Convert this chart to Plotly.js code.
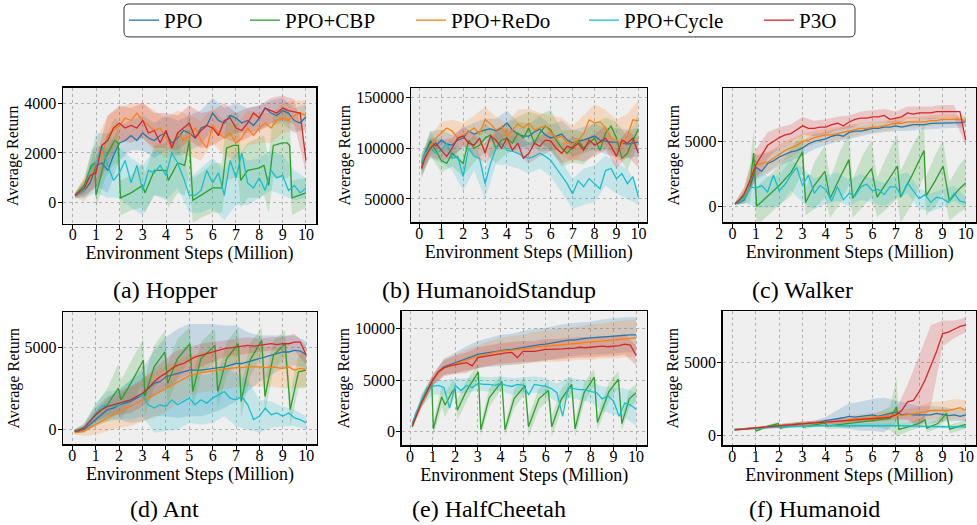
<!DOCTYPE html>
<html><head><meta charset="utf-8">
<script src="https://cdn.plot.ly/plotly-3.0.1.min.js"></script>
<style>html,body{margin:0;padding:0;background:#fff}</style>
</head><body><div id="chart" style="width:977px;height:525px"></div>
<script>
const SERIES = ['PPO','PPO+CBP','PPO+ReDo','PPO+Cycle','P3O'];
const COLORS = ['#1f77b4','#2ca02c','#ff7f0e','#17becf','#d62728'];
const X_TICKS = [0,1,2,3,4,5,6,7,8,9,10];
const X41 = [0.1,0.25,0.5,0.75,1,1.25,1.5,1.75,2,2.25,2.5,2.75,3,3.25,3.5,3.75,4,4.25,4.5,4.75,5,5.25,5.5,5.75,6,6.25,6.5,6.75,7,7.25,7.5,7.75,8,8.25,8.5,8.75,9,9.25,9.5,9.75,10];
const X21 = [0.1,0.5,1,1.5,2,2.5,3,3.5,4,4.5,5,5.5,6,6.5,7,7.5,8,8.5,9,9.5,10];

// ---------- (a) Hopper ----------
const HOP_PPO = [300,380,500,800,1500,1600,1300,1900,2400,2500,2700,2500,2800,2600,2500,2700,2800,2400,2600,2900,2800,2600,3000,3100,3600,3300,3200,3500,3400,3200,3300,3100,3400,3800,3600,3500,3700,3600,3300,3200,3450];
const HOP_PPO_SD = [100,300,800,900,700,600,700,700,700,700,700,700,600,600,600,500,500,500,500,500,500];
const HOP_REDO = [300,400,550,1000,1600,1900,2700,2900,3100,3400,3300,3600,3300,3100,2900,3000,2600,2200,2800,2500,2700,3000,2500,2200,3100,2800,2600,2800,2400,2600,3000,2700,3000,3200,3000,3300,3400,3300,3500,3600,3500];
const HOP_REDO_SD = [100,500,900,800,700,700,700,800,800,900,800,800,700,700,700,700,600,600,600,600,600];
const HOP_P3O = [300,400,600,1100,1200,2300,2500,3000,3200,3000,3100,3000,3300,2800,2900,2400,2900,2200,2800,3000,3200,2600,2900,3100,3000,2700,3300,3400,3000,2900,3200,3600,3400,3800,3700,3600,3800,3700,3650,3600,1700];
const HOP_P3O_SD = [100,300,600,1000,700,700,700,700,700,700,700,700,700,700,600,600,500,500,500,500,500];
const HOP_CYC = [300,400,500,1300,1600,2300,1500,900,1200,1700,800,1500,500,1300,1200,1500,1100,2000,1600,1000,300,300,500,1300,800,1200,300,1700,1000,2000,800,600,1000,500,1300,1000,1100,500,700,400,600];
const HOP_CYC_SD = [100,300,1200,1300,1000,1000,1000,900,1000,1000,700,900,1000,1000,1100,900,800,800,800,600,400];
const HOP_CBP_X = [0.1,0.5,0.8,0.95,1.0,1.4,1.8,1.95,2.05,2.5,3.0,3.1,3.5,4.0,4.1,4.5,4.8,5.0,5.15,5.5,6.0,6.4,6.6,6.9,7.1,7.2,7.5,8.0,8.2,8.4,8.6,9.0,9.2,9.3,9.4,10];
const HOP_CBP = [300,700,1500,1600,300,1800,2500,2400,200,400,700,400,1300,1300,900,1600,1500,2500,100,300,600,600,2200,2300,2300,900,1300,1400,1500,700,2300,2400,2400,2300,200,400];
const HOP_CBP_SD = [100,300,600,700,500,800,900,900,700,700,900,800,1000,1100,1100,1200,1200,1300,900,900,1000,1000,1300,1300,1300,1100,1100,1200,1200,1100,1300,1400,1400,1200,700,600];

// ---------- (b) HumanoidStandup ----------
const HS_PPO = [85000,95000,107000,102000,108000,104000,103000,108000,110000,117000,114000,116000,118000,119000,117000,120000,125000,118000,114000,112000,112000,116000,119000,113000,110000,112000,114000,108000,105000,107000,108000,110000,112000,108000,107000,106000,106000,105000,104000,105000,106000];
const HS_PPO_SD = [8000,10000,10000,10000,10000,11000,11000,12000,12000,12000,12000,13000,13000,13000,13000,13000,13000,13000,14000,14000,14000];
const HS_REDO = [85000,92000,102000,110000,115000,120000,117000,110000,113000,116000,120000,114000,128000,124000,118000,121000,112000,118000,124000,120000,125000,118000,120000,122000,116000,110000,112000,105000,104000,108000,114000,128000,125000,126000,120000,110000,108000,104000,112000,128000,127000];
const HS_REDO_SD = [8000,10000,11000,11000,12000,12000,13000,13000,13000,14000,14000,15000,16000,18000,18000,18000,18000,18000,20000,22000,20000];
const HS_P3O = [80000,90000,100000,105000,98000,92000,100000,110000,112000,105000,103000,110000,95000,112000,108000,100000,110000,98000,105000,90000,95000,105000,102000,108000,107000,100000,95000,102000,100000,105000,98000,108000,103000,106000,110000,102000,92000,108000,105000,110000,95000];
const HS_P3O_SD = [8000,9000,10000,10000,10000,10000,10000,10000,10000,10000,10000,10000,10000,10000,11000,11000,11000,12000,12000,13000,14000];
const HS_CBP = [80000,92000,105000,98000,88000,85000,95000,90000,85000,108000,100000,103000,110000,113000,100000,108000,110000,105000,115000,110000,120000,105000,115000,122000,118000,108000,100000,95000,102000,108000,100000,105000,110000,98000,115000,122000,110000,90000,95000,108000,119000];
const HS_CBP_SD = [10000,12000,12000,13000,13000,14000,14000,15000,15000,16000,16000,18000,20000,18000,16000,16000,15000,15000,16000,16000,15000];
const HS_CYC = [85000,95000,100000,95000,98000,105000,90000,92000,72000,100000,92000,90000,65000,85000,100000,105000,98000,97000,95000,92000,90000,92000,95000,92000,88000,80000,72000,65000,55000,68000,62000,70000,65000,60000,78000,80000,70000,75000,65000,72000,52000];
const HS_CYC_SD = [10000,10000,12000,12000,14000,14000,15000,16000,15000,15000,15000,15000,16000,16000,15000,18000,18000,15000,15000,15000,8000];

// ---------- (c) Walker ----------
const WK_PPO = [200,250,500,1500,3000,2700,3300,3500,3800,4000,4200,4300,4500,4800,5000,5100,5200,5400,5500,5400,5700,5800,5800,5900,6000,6000,6100,6100,6200,6100,6200,6300,6300,6300,6400,6400,6400,6400,6450,6450,6500];
const WK_PPO_SD = [100,300,900,800,700,700,600,600,500,500,500,400,400,400,400,400,400,400,400,400,400];
const WK_REDO = [200,300,600,2000,3200,3300,3400,3700,4000,4300,4500,4700,5000,5100,5300,5400,5500,5500,5600,5700,5800,5900,6000,6000,6100,6100,6200,6300,6400,6400,6500,6500,6500,6500,6600,6600,6700,6700,6700,6700,6600];
const WK_REDO_SD = [100,300,800,800,700,700,600,500,500,500,500,400,400,400,400,400,400,400,400,400,400];
const WK_P3O = [200,400,1000,2000,3200,4000,4700,5000,5300,5500,5600,5900,6200,6000,6000,6100,6100,6300,6400,6200,6500,6700,6800,6800,6900,6900,7000,6700,6800,6900,7200,7100,7200,7200,7200,7300,7300,7300,7300,7300,5100];
const WK_P3O_SD = [100,500,1200,1000,800,700,700,600,600,500,500,500,500,500,500,500,500,500,500,500,400];
const WK_CYC = [200,300,600,1500,1400,1600,1100,2400,1200,1700,2400,3000,1600,2400,1000,1600,1300,400,1500,500,1000,800,1500,1700,1200,1300,900,1500,1500,800,1800,1200,600,900,300,700,600,300,1000,400,300];
const WK_CYC_SD = [100,300,1500,1200,1200,1200,1300,1200,1100,1100,1000,1000,900,900,900,800,800,700,700,600,400];
const WK_CBP_X = [0.1,0.5,0.75,0.9,1.03,1.5,2.0,2.5,3.0,3.13,3.5,3.96,4.18,4.6,4.99,5.15,5.6,5.96,6.2,6.6,7.07,7.2,7.7,8.21,8.3,8.7,9.03,9.3,9.7,10];
const WK_CBP = [200,800,1800,4100,0,800,1600,2600,4200,300,1600,2700,600,2200,3600,600,2000,2900,700,1800,3100,700,2400,4300,800,2000,3100,400,1300,1800];
const WK_CBP_SD = [100,600,1500,1800,1500,1500,1500,1800,1500,1000,1800,2000,1500,2000,2000,1500,2000,2200,1500,2000,2500,2000,2200,2000,1500,2000,2000,1500,1800,2000];

// ---------- (d) Ant ----------
const ANT_PPO = [-100,-100,0,300,600,900,1200,1300,1500,1600,1700,1900,2100,2500,2800,2900,3200,3300,3400,3500,3600,3600,3600,3650,3700,3750,3800,3900,4000,4000,4100,4200,4300,4400,4500,4600,4700,4700,4800,4750,4550];
const ANT_PPO_SD = [100,200,400,700,900,1300,1600,2000,2400,2700,2800,2800,2700,2500,2300,1800,1400,1200,1000,900,800];
const ANT_REDO = [-200,-150,-100,100,300,500,700,900,1100,1300,1400,1600,1800,1900,2100,2300,2450,2700,2900,3100,3250,3350,3450,3500,3550,3600,3650,3700,3750,3750,3800,3800,3800,3750,3800,3750,3700,3800,3600,3700,3650];
const ANT_REDO_SD = [100,300,600,800,1000,1200,1300,1400,1400,1300,1200,1200,1200,1200,1200,1200,1200,1200,1200,1100,1000];
const ANT_P3O = [-100,-100,100,500,900,1200,1400,1500,1600,1700,1800,2000,2200,2500,2900,3200,3400,3700,3900,4000,4200,4400,4500,4600,4700,4800,4900,4950,5000,5050,5100,5050,5100,5150,5200,5150,5200,5200,5300,5300,4500];
const ANT_P3O_SD = [100,200,400,600,700,800,800,800,900,900,800,700,600,500,500,500,400,400,400,500,600];
const ANT_CYC = [-100,-100,100,500,1000,1400,1500,1400,1500,1700,1800,2000,2100,1500,1300,1500,1400,1800,1500,1700,1900,1500,1800,1600,1900,2100,2300,1900,1800,2000,1500,600,800,1300,900,1000,800,1000,700,600,400];
const ANT_CYC_SD = [100,300,600,800,900,1200,1300,1500,1500,1500,1500,1500,1500,1500,1600,1500,1000,800,600,500,400];
const ANT_CBP_X = [0.1,0.5,1.0,1.5,1.97,2.08,2.5,3.04,3.1,3.5,3.96,4.08,4.5,5.03,5.15,5.5,6.1,6.22,6.6,7.1,7.22,7.6,8.1,8.24,8.6,9.1,9.32,9.67,10];
const ANT_CBP = [-100,100,900,1500,2500,1800,2800,4200,2000,3800,4700,2800,4300,5200,2300,4300,5100,2300,4300,5200,1700,4200,5400,2000,4500,5200,1200,3500,3600];
const ANT_CBP_SD = [100,200,600,1000,1500,1200,1300,1300,1200,1300,1300,1200,1200,1000,1000,1000,1000,1000,1000,1000,1000,1000,800,1000,900,800,1000,1000,1100];

// ---------- (e) HalfCheetah ----------
const HC_PPO = [800,1700,2800,3900,5000,5800,6300,6500,6700,6900,7100,7300,7500,7600,7700,7800,7900,7950,8000,8100,8200,8300,8400,8450,8500,8600,8700,8800,8900,8900,9000,9050,9100,9150,9200,9250,9300,9350,9400,9400,9400];
const HC_PPO_SD = [200,400,500,800,1000,1200,1300,1400,1500,1500,1600,1600,1600,1600,1600,1600,1600,1700,1700,1700,1700];
const HC_REDO = [600,1500,2700,3800,5000,5700,6200,6400,6600,6800,7000,7150,7300,7450,7600,7700,7800,7850,7900,7950,8000,8100,8200,8250,8300,8350,8400,8450,8500,8550,8600,8650,8700,8750,8800,8850,8900,8950,9000,9050,9100];
const HC_REDO_SD = [200,400,500,700,900,1000,1100,1200,1300,1400,1400,1500,1500,1600,1600,1600,1700,1700,1800,1800,1800];
const HC_P3O = [600,1500,2800,3900,5000,5800,6200,6400,6500,6600,6700,6400,7200,7300,7400,7500,7600,7650,7700,7200,7800,7800,7800,7900,8000,8000,8000,8050,8100,8100,8200,8150,8200,8250,8300,8250,8300,8350,8500,8400,7400];
const HC_P3O_SD = [200,400,500,800,900,1000,1000,1000,1000,1000,1000,1000,1000,1000,1000,1000,1000,1000,1000,1000,1000];
const HC_CYC = [700,1800,3000,4300,4400,4500,4300,2300,4500,4000,4500,4300,4700,4600,4600,4500,4700,4500,4400,4600,4500,3600,4600,4500,4400,4200,3800,1500,4300,4200,4100,4100,3900,3800,3200,3500,3000,1500,2800,2600,2200];
const HC_CYC_SD = [200,600,800,700,700,700,700,700,700,800,800,800,800,900,1000,1000,1000,1200,1300,1400,1600];
const HC_CBP_X = [0.1,0.5,0.96,1.03,1.4,1.55,1.84,1.99,2.09,2.5,3.02,3.13,3.5,4.06,4.2,4.6,5.09,5.24,5.7,6.12,6.27,6.7,7.15,7.3,7.7,8.15,8.29,8.8,9.22,9.37,9.7,10];
const HC_CBP = [500,3000,4800,300,3400,2600,3800,4200,2100,4000,5800,200,3300,4900,200,3200,4500,500,3200,4000,500,3200,4600,300,3800,5300,900,3900,5100,800,3200,3800];
const HC_CBP_SD = [200,600,600,700,1000,1200,1000,800,1000,1000,800,600,900,700,600,900,800,1000,1000,900,1000,1000,800,800,1000,800,700,900,800,700,900,800];

// ---------- (f) Humanoid ----------
const HU_PPO = [380,400,430,460,500,530,570,610,650,680,700,730,750,800,850,900,1000,1050,1150,1200,1300,1250,1300,1350,1400,1300,1400,1450,1600,1400,1450,1400,1400,1450,1400,1500,1450,1350,1400,1300,1400];
const HU_PPO_SD = [50,60,80,100,120,150,150,150,250,600,900,1000,1100,1200,800,700,600,600,500,400,400];
const HU_REDO = [400,410,440,470,500,530,570,610,650,680,710,740,770,800,830,860,900,930,970,1000,1080,1100,1150,1180,1220,1250,1300,1330,1380,1350,1400,1450,1500,1600,1700,1700,1720,1700,1800,1900,1700];
const HU_REDO_SD = [50,60,80,100,120,150,150,150,150,200,250,300,300,300,300,400,500,600,600,700,700];
const HU_P3O = [350,380,420,460,500,530,570,610,650,680,720,760,800,830,860,880,900,930,960,980,1000,1030,1060,1080,1100,1150,1200,1250,1400,1700,2300,2400,3000,3800,4800,5800,7000,7100,7300,7500,7600];
const HU_P3O_SD = [50,60,80,100,120,150,150,150,150,150,150,150,200,200,300,1200,2500,2800,900,600,500];
const HU_CYC = [380,400,420,450,480,500,520,540,560,580,600,600,610,620,640,650,660,660,670,680,680,690,690,700,700,700,690,700,700,680,650,620,600,600,590,590,580,580,570,570,570];
const HU_CYC_SD = [40,50,60,70,80,80,80,90,90,100,100,100,100,100,100,100,100,100,100,100,100];
const HU_CBP_X = [0.1,0.5,0.97,1.03,1.5,1.97,2.05,2.5,2.97,3.05,3.5,3.97,4.05,5.0,6.0,6.75,7.03,7.13,7.6,7.96,8.25,8.32,8.8,9.17,9.3,10];
const HU_CBP = [400,430,480,300,600,800,480,650,800,560,720,850,620,800,1000,1150,1950,400,600,800,1050,480,800,1500,420,750];
const HU_CBP_SD = [40,50,80,80,100,120,100,120,150,150,150,200,200,300,400,800,2000,400,300,300,300,300,300,400,300,300];

const PANEL_TITLES = ['(a) Hopper','(b) HumanoidStandup','(c) Walker','(d) Ant','(e) HalfCheetah','(f) Humanoid'];
const Y_TICKS = [[0,2000,4000],[50000,100000,150000],[0,5000],[0,5000],[0,5000,10000],[0,5000]];

const PANEL_DATA = [
  [[null,HOP_PPO,HOP_PPO_SD],[HOP_CBP_X,HOP_CBP,HOP_CBP_SD],[null,HOP_REDO,HOP_REDO_SD],[null,HOP_CYC,HOP_CYC_SD],[null,HOP_P3O,HOP_P3O_SD]],
  [[null,HS_PPO,HS_PPO_SD],[null,HS_CBP,HS_CBP_SD],[null,HS_REDO,HS_REDO_SD],[null,HS_CYC,HS_CYC_SD],[null,HS_P3O,HS_P3O_SD]],
  [[null,WK_PPO,WK_PPO_SD],[WK_CBP_X,WK_CBP,WK_CBP_SD],[null,WK_REDO,WK_REDO_SD],[null,WK_CYC,WK_CYC_SD],[null,WK_P3O,WK_P3O_SD]],
  [[null,ANT_PPO,ANT_PPO_SD],[ANT_CBP_X,ANT_CBP,ANT_CBP_SD],[null,ANT_REDO,ANT_REDO_SD],[null,ANT_CYC,ANT_CYC_SD],[null,ANT_P3O,ANT_P3O_SD]],
  [[null,HC_PPO,HC_PPO_SD],[HC_CBP_X,HC_CBP,HC_CBP_SD],[null,HC_REDO,HC_REDO_SD],[null,HC_CYC,HC_CYC_SD],[null,HC_P3O,HC_P3O_SD]],
  [[null,HU_PPO,HU_PPO_SD],[HU_CBP_X,HU_CBP,HU_CBP_SD],[null,HU_REDO,HU_REDO_SD],[null,HU_CYC,HU_CYC_SD],[null,HU_P3O,HU_P3O_SD]]
];

const W = 977, H = 525;
const BOX = [
  {l:63, r:316, t:87, b:223, xr:[-0.415,10.43], yr:[-830,4610]},
  {l:411, r:646.7, t:87.3, b:221.7, xr:[-0.38,10.38], yr:[26970,159250]},
  {l:723.3, r:976, t:87.3, b:221.7, xr:[-0.40,10.44], yr:[-1231,9108]},
  {l:63.3, r:316.7, t:311.7, b:444.3, xr:[-0.385,10.45], yr:[-907,7117]},
  {l:401.7, r:646.7, t:311, b:445, xr:[-0.37,10.47], yr:[-1286,11673]},
  {l:722.7, r:976, t:311, b:445, xr:[-0.41,10.43], yr:[-688,8528]}
];
const CAPTION_POS = [[165,290],[489,290],[802,290],[164,509],[489,509],[814,509]];
const LEGEND_X = [130,251,417,590,765];

const SERIF = 'Liberation Serif';
function rgba(hex,a){const n=parseInt(hex.slice(1),16);return `rgba(${n>>16},${(n>>8)&255},${n&255},${a})`;}

const traces = [];
PANEL_DATA.forEach((panel, pi) => {
  const xa = pi === 0 ? 'x' : 'x' + (pi+1);
  const ya = pi === 0 ? 'y' : 'y' + (pi+1);
  panel.forEach((s, si) => {
    const [cx, m, sd] = s;
    let bx, bc;
    if (cx) { bx = cx; bc = m; }
    else { bx = X21; bc = X21.map((_, k) => m[2*k]); }
    const hi = bc.map((v,k)=>v+sd[k]);
    const lo = bc.map((v,k)=>v-sd[k]);
    traces.push({
      x: bx.concat(bx.slice().reverse()),
      y: hi.concat(lo.slice().reverse()),
      xaxis: xa, yaxis: ya, type:'scatter', mode:'lines', fill:'toself',
      fillcolor: rgba(COLORS[si], 0.2), line:{width:0, color:COLORS[si]},
      hoverinfo:'skip', showlegend:false
    });
  });
  panel.forEach((s, si) => {
    const [cx, m] = s;
    traces.push({
      x: cx || X41, y: m, xaxis: xa, yaxis: ya, type:'scatter', mode:'lines',
      name: SERIES[si], line:{color:COLORS[si], width:1.3},
      showlegend: pi === 0,
      legend: si === 0 ? 'legend' : 'legend' + (si+1)
    });
  });
});

const layout = {
  width: W, height: H, margin:{l:0,r:0,t:0,b:0},
  paper_bgcolor:'#ffffff', plot_bgcolor:'#efefef',
  font:{family:SERIF, size:16, color:'#000'},
  showlegend:true, annotations:[], shapes:[]
};
BOX.forEach((b, i) => {
  const xk = i === 0 ? 'xaxis' : 'xaxis' + (i+1);
  const yk = i === 0 ? 'yaxis' : 'yaxis' + (i+1);
  const ya = i === 0 ? 'y' : 'y' + (i+1);
  const xa = i === 0 ? 'x' : 'x' + (i+1);
  const common = {
    showline:true, mirror:true, linecolor:'#000', linewidth:1.5,
    ticks:'outside', ticklen:4, tickwidth:1, tickcolor:'#000',
    showgrid:true, gridcolor:'#b3b3b3', griddash:'dot', gridwidth:1,
    zeroline:false, automargin:false,
    tickfont:{family:SERIF, size:16, color:'#000'}
  };
  layout[xk] = Object.assign({}, common, {
    domain:[b.l/W, b.r/W], anchor: ya, range:b.xr,
    tickvals: X_TICKS, ticktext: X_TICKS.map(String),
    ticklabelstandoff:-8,
    title:{text:'Environment Steps (Million)', font:{family:SERIF, size:18, color:'#000'}, standoff:0}
  });
  layout[yk] = Object.assign({}, common, {
    domain:[1-b.b/H, 1-b.t/H], anchor: xa, range:b.yr,
    tickvals: Y_TICKS[i], tickformat:'d',
    ticklabelstandoff:-2,
    title:{text:'Average Return', font:{family:SERIF, size:16, color:'#000'}, standoff:1}
  });
  layout.annotations.push({
    xref:'paper', yref:'paper', x: CAPTION_POS[i][0]/W, y: 1-CAPTION_POS[i][1]/H,
    xanchor:'center', yanchor:'middle', showarrow:false,
    text: PANEL_TITLES[i], font:{family:SERIF, size:24, color:'#000'}
  });
});
LEGEND_X.forEach((lx, i) => {
  const key = i === 0 ? 'legend' : 'legend' + (i+1);
  layout[key] = {
    orientation:'h', x:(lx-6)/W, xanchor:'left', y:1-20/H, yanchor:'middle',
    bgcolor:'rgba(0,0,0,0)', borderwidth:0,
    font:{family:SERIF, size:21, color:'#000'}
  };
});
(function(){
  const x0=124, x1=855, y0=3, y1=36, r=5;
  const X=v=>(v/W).toFixed(5), Y=v=>(1-v/H).toFixed(5);
  const p = `M${X(x0+r)},${Y(y0)} L${X(x1-r)},${Y(y0)} Q${X(x1)},${Y(y0)} ${X(x1)},${Y(y0+r)} L${X(x1)},${Y(y1-r)} Q${X(x1)},${Y(y1)} ${X(x1-r)},${Y(y1)} L${X(x0+r)},${Y(y1)} Q${X(x0)},${Y(y1)} ${X(x0)},${Y(y1-r)} L${X(x0)},${Y(y0+r)} Q${X(x0)},${Y(y0)} ${X(x0+r)},${Y(y0)} Z`;
  layout.shapes.push({type:'path', xref:'paper', yref:'paper', path:p, line:{color:'#333', width:1}, fillcolor:'rgba(0,0,0,0)'});
})();

Plotly.newPlot('chart', traces, layout, {staticPlot:true, displayModeBar:false});
</script></body></html>
